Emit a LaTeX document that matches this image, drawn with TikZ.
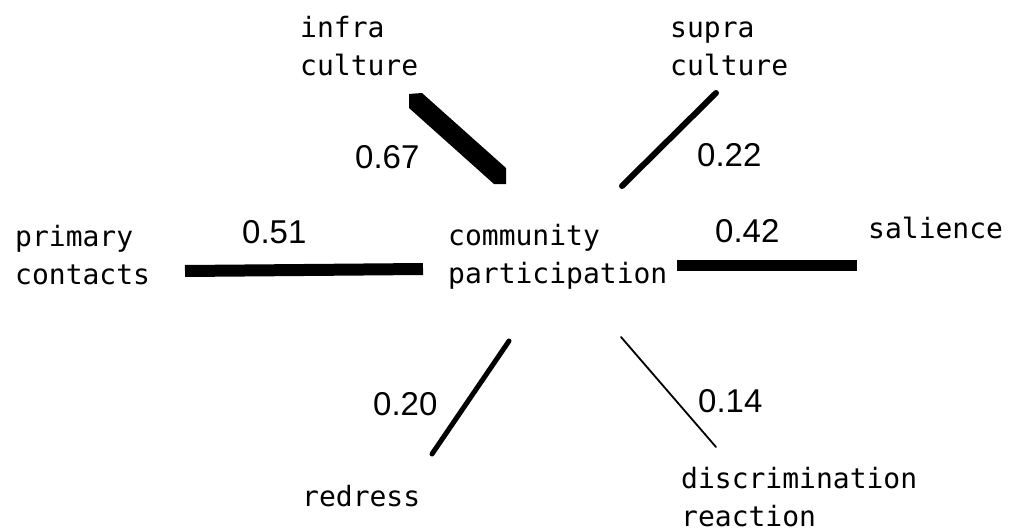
\documentclass[tikz,border=0pt]{standalone}
\usepackage{fontspec}
\setmainfont{Liberation Sans}
\newfontfamily\labelfont{DejaVu Sans Mono}
\usetikzlibrary{calc}
% two left-aligned lines, aligned on the baseline of the first one
\newcommand{\stacked}[2]{\begin{tabular}[t]{@{}l@{}}#1\\#2\end{tabular}}

\begin{document}
\begin{tikzpicture}[x=1pt,y=-1pt,
  term/.style={anchor=base west, inner sep=0pt, font=\labelfont\fontsize{28}{38}\selectfont},
  weight/.style={anchor=base west, inner sep=0pt, font=\fontsize{33}{38}\selectfont},
  spoke/.style={line width=#1, line cap=butt},
  thinspoke/.style={line width=#1, line cap=round}]

\useasboundingbox (0,0) rectangle (1012,532);

% variables
\node[term] (center) at (448,245) {\stacked{community}{participation}};
\node[term] (infra)  at (300,38)  {\stacked{infra}{culture}};
\node[term] (supra)  at (670,38)  {\stacked{supra}{culture}};
\node[term] (primary) at (15,246) {\stacked{primary}{contacts}};
\node[term] (salience) at (868,238) {salience};
\node[term] (redress) at (302,506) {redress};
\node[term] (discr)  at (681,488) {\stacked{discrimination}{reaction}};

% spoke end points
\coordinate (infraA) at (415,100);
\coordinate (infraB) at (500,177);
\coordinate (supraA) at (716,93);
\coordinate (supraB) at (622,186);
\coordinate (primA) at (185,271);
\coordinate (primB) at (423,269);
\coordinate (salA) at (677,265);
\coordinate (salB) at (857,265);
\coordinate (redA) at (432,454);
\coordinate (redB) at (509,341);
\coordinate (discA) at (621,337);
\coordinate (discB) at (716,447);

% spokes, thickness after the coefficient
\fill ($(infraA)+(-6,-6)$) -- ($(infraA)+(7,-7)$) -- ($(infraB)+(6,-9)$)
   -- ($(infraB)+(6,7)$) -- ($(infraB)+(-6,7)$) -- ($(infraA)+(-6,8)$) -- cycle;
\draw[thinspoke=6pt] (supraA) -- (supraB);
\draw[spoke=12pt] (primA) -- (primB);
\draw[spoke=11pt] (salA) -- (salB);
\draw[thinspoke=5pt] (redA) -- (redB);
\draw[thinspoke=1.8pt] (discA) -- (discB);

% coefficients
\node[weight] (w1) at (355,168) {0.67};
\node[weight] (w2) at (697,167) {0.22};
\node[weight] (w3) at (242,243) {0.51};
\node[weight] (w4) at (715,242) {0.42};
\node[weight] (w5) at (373,415) {0.20};
\node[weight] (w6) at (698,412) {0.14};
\end{tikzpicture}
\end{document}
